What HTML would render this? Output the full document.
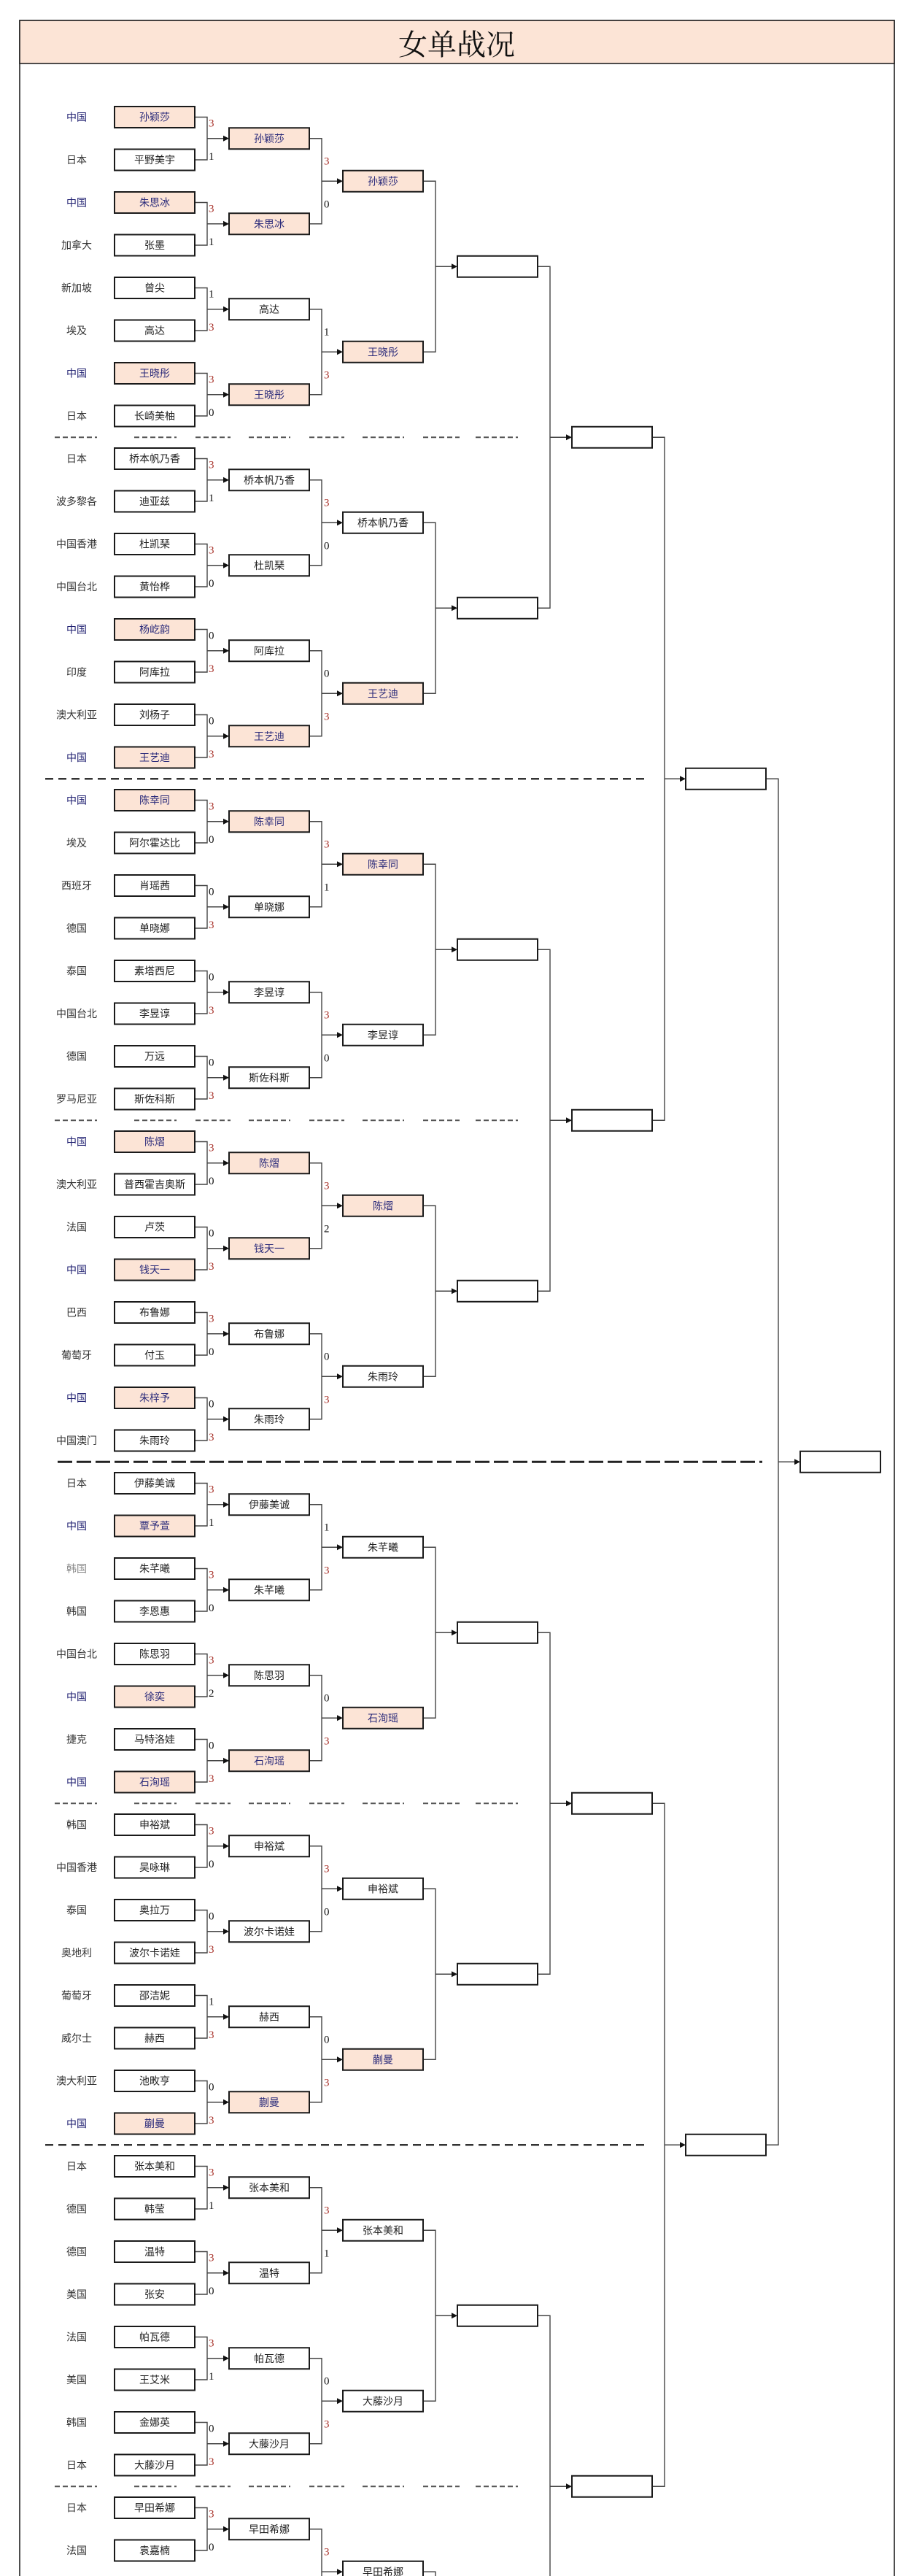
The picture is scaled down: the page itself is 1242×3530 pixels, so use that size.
<!DOCTYPE html>
<html><head><meta charset="utf-8"><style>
html,body{margin:0;padding:0;background:#fff;width:1242px;height:3530px;overflow:hidden;}
svg{display:block;}
text{font-family:"Liberation Sans","Noto Sans CJK SC",sans-serif;font-size:14px;}
.c{text-anchor:middle;fill:#333;}
.cn{text-anchor:middle;fill:#1f1f70;}
.n{text-anchor:middle;fill:#222;}
.h{text-anchor:middle;fill:#2a2a7a;}
.s{font-family:"Liberation Serif",serif;font-size:15px;fill:#111;}
.r{font-family:"Liberation Serif",serif;font-size:15px;fill:#a8322a;}
.b{fill:#fff;stroke:#1a1a1a;stroke-width:2;}
.p{fill:#fce4d6;stroke:#1a1a1a;stroke-width:2;}
.l{fill:none;stroke:#444;stroke-width:1.4;}
</style></head><body>
<svg width="1242" height="3530" viewBox="0 0 1242 3530" xmlns="http://www.w3.org/2000/svg" style="overflow:hidden">
<defs>
<g id="m1"><path class="l" d="M267 160.5H284V219H267M284 189.75H307"/><polygon points="306,185.75 314,189.75 306,193.75" fill="#111"/></g>
<g id="m2"><path class="l" d="M424 189.75H441V306.75H424M441 248.25H463"/><polygon points="462,244.25 470,248.25 462,252.25" fill="#111"/></g>
<g id="m3"><path class="l" d="M580 248.25H597V482.25H580M597 365.25H620"/><polygon points="619,361.25 627,365.25 619,369.25" fill="#111"/></g>
<g id="m4"><path class="l" d="M737 365.25H754V833.25H737M754 599.25H777"/><polygon points="776,595.25 784,599.25 776,603.25" fill="#111"/></g>
<g id="m5"><path class="l" d="M894 599.25H911V1535.25H894M911 1067.25H933"/><polygon points="932,1063.25 940,1067.25 932,1071.25" fill="#111"/></g>
<g id="m6"><path class="l" d="M1050 1067.25H1067V2939.25H1050M1067 2003.25H1090"/><polygon points="1089,1999.25 1097,2003.25 1089,2007.25" fill="#111"/></g>
<g id="sepA" fill="none" stroke="#555" stroke-width="2" stroke-dasharray="7 4">
<path d="M75 0H133M184 0H242M268 0H316M341 0H398M424 0H472M497 0H554M580 0H630M652 0H710"/>
</g>
</defs>

<path d="M27 3530V28H1226V3530" fill="#fff" stroke="#222" stroke-width="1.6"/>
<rect x="27" y="28" width="1199" height="59" fill="#fce4d6" stroke="#222" stroke-width="1.6"/>
<text x="626" y="75" text-anchor="middle" style="font-family:'Liberation Serif','Noto Serif CJK SC',serif;font-size:40px;fill:#111;">女单战况</text>

<use href="#sepA" y="599.25"/>
<use href="#sepA" y="1535.25"/>
<use href="#sepA" y="2471.25"/>
<use href="#sepA" y="3407.25"/>
<path d="M62 1067.25H883M62 2939.25H883" fill="none" stroke="#333" stroke-width="2.5" stroke-dasharray="11 7"/>
<path d="M79 2003.25H1045" fill="none" stroke="#222" stroke-width="3" stroke-dasharray="20 6"/>

<use href="#m1" y="0"/><use href="#m1" y="117"/><use href="#m1" y="234"/><use href="#m1" y="351"/><use href="#m1" y="468"/><use href="#m1" y="585"/><use href="#m1" y="702"/><use href="#m1" y="819"/><use href="#m1" y="936"/><use href="#m1" y="1053"/><use href="#m1" y="1170"/><use href="#m1" y="1287"/><use href="#m1" y="1404"/><use href="#m1" y="1521"/><use href="#m1" y="1638"/><use href="#m1" y="1755"/><use href="#m1" y="1872"/><use href="#m1" y="1989"/><use href="#m1" y="2106"/><use href="#m1" y="2223"/><use href="#m1" y="2340"/><use href="#m1" y="2457"/><use href="#m1" y="2574"/><use href="#m1" y="2691"/><use href="#m1" y="2808"/><use href="#m1" y="2925"/><use href="#m1" y="3042"/><use href="#m1" y="3159"/><use href="#m1" y="3276"/><use href="#m1" y="3393"/>
<use href="#m2" y="0"/><use href="#m2" y="234"/><use href="#m2" y="468"/><use href="#m2" y="702"/><use href="#m2" y="936"/><use href="#m2" y="1170"/><use href="#m2" y="1404"/><use href="#m2" y="1638"/><use href="#m2" y="1872"/><use href="#m2" y="2106"/><use href="#m2" y="2340"/><use href="#m2" y="2574"/><use href="#m2" y="2808"/><use href="#m2" y="3042"/><use href="#m2" y="3276"/>
<use href="#m3" y="0"/><use href="#m3" y="468"/><use href="#m3" y="936"/><use href="#m3" y="1404"/><use href="#m3" y="1872"/><use href="#m3" y="2340"/><use href="#m3" y="2808"/><use href="#m3" y="3276"/>
<use href="#m4" y="0"/><use href="#m4" y="936"/><use href="#m4" y="1872"/><use href="#m4" y="2808"/>
<use href="#m5" y="0"/><use href="#m5" y="1872"/>
<use href="#m6" y="0"/>

<g transform="translate(0,0)"><text class="r" x="286" y="173.5">3</text><text class="s" x="286" y="219">1</text></g>
<g transform="translate(0,117)"><text class="r" x="286" y="173.5">3</text><text class="s" x="286" y="219">1</text></g>
<g transform="translate(0,234)"><text class="s" x="286" y="173.5">1</text><text class="r" x="286" y="219">3</text></g>
<g transform="translate(0,351)"><text class="r" x="286" y="173.5">3</text><text class="s" x="286" y="219">0</text></g>
<g transform="translate(0,468)"><text class="r" x="286" y="173.5">3</text><text class="s" x="286" y="219">1</text></g>
<g transform="translate(0,585)"><text class="r" x="286" y="173.5">3</text><text class="s" x="286" y="219">0</text></g>
<g transform="translate(0,702)"><text class="s" x="286" y="173.5">0</text><text class="r" x="286" y="219">3</text></g>
<g transform="translate(0,819)"><text class="s" x="286" y="173.5">0</text><text class="r" x="286" y="219">3</text></g>
<g transform="translate(0,936)"><text class="r" x="286" y="173.5">3</text><text class="s" x="286" y="219">0</text></g>
<g transform="translate(0,1053)"><text class="s" x="286" y="173.5">0</text><text class="r" x="286" y="219">3</text></g>
<g transform="translate(0,1170)"><text class="s" x="286" y="173.5">0</text><text class="r" x="286" y="219">3</text></g>
<g transform="translate(0,1287)"><text class="s" x="286" y="173.5">0</text><text class="r" x="286" y="219">3</text></g>
<g transform="translate(0,1404)"><text class="r" x="286" y="173.5">3</text><text class="s" x="286" y="219">0</text></g>
<g transform="translate(0,1521)"><text class="s" x="286" y="173.5">0</text><text class="r" x="286" y="219">3</text></g>
<g transform="translate(0,1638)"><text class="r" x="286" y="173.5">3</text><text class="s" x="286" y="219">0</text></g>
<g transform="translate(0,1755)"><text class="s" x="286" y="173.5">0</text><text class="r" x="286" y="219">3</text></g>
<g transform="translate(0,1872)"><text class="r" x="286" y="173.5">3</text><text class="s" x="286" y="219">1</text></g>
<g transform="translate(0,1989)"><text class="r" x="286" y="173.5">3</text><text class="s" x="286" y="219">0</text></g>
<g transform="translate(0,2106)"><text class="r" x="286" y="173.5">3</text><text class="s" x="286" y="219">2</text></g>
<g transform="translate(0,2223)"><text class="s" x="286" y="173.5">0</text><text class="r" x="286" y="219">3</text></g>
<g transform="translate(0,2340)"><text class="r" x="286" y="173.5">3</text><text class="s" x="286" y="219">0</text></g>
<g transform="translate(0,2457)"><text class="s" x="286" y="173.5">0</text><text class="r" x="286" y="219">3</text></g>
<g transform="translate(0,2574)"><text class="s" x="286" y="173.5">1</text><text class="r" x="286" y="219">3</text></g>
<g transform="translate(0,2691)"><text class="s" x="286" y="173.5">0</text><text class="r" x="286" y="219">3</text></g>
<g transform="translate(0,2808)"><text class="r" x="286" y="173.5">3</text><text class="s" x="286" y="219">1</text></g>
<g transform="translate(0,2925)"><text class="r" x="286" y="173.5">3</text><text class="s" x="286" y="219">0</text></g>
<g transform="translate(0,3042)"><text class="r" x="286" y="173.5">3</text><text class="s" x="286" y="219">1</text></g>
<g transform="translate(0,3159)"><text class="s" x="286" y="173.5">0</text><text class="r" x="286" y="219">3</text></g>
<g transform="translate(0,3276)"><text class="r" x="286" y="173.5">3</text><text class="s" x="286" y="219">0</text></g>

<g transform="translate(0,0)"><text class="r" x="444" y="225.25">3</text><text class="s" x="444" y="284.25">0</text></g>
<g transform="translate(0,234)"><text class="s" x="444" y="225.25">1</text><text class="r" x="444" y="284.25">3</text></g>
<g transform="translate(0,468)"><text class="r" x="444" y="225.25">3</text><text class="s" x="444" y="284.25">0</text></g>
<g transform="translate(0,702)"><text class="s" x="444" y="225.25">0</text><text class="r" x="444" y="284.25">3</text></g>
<g transform="translate(0,936)"><text class="r" x="444" y="225.25">3</text><text class="s" x="444" y="284.25">1</text></g>
<g transform="translate(0,1170)"><text class="r" x="444" y="225.25">3</text><text class="s" x="444" y="284.25">0</text></g>
<g transform="translate(0,1404)"><text class="r" x="444" y="225.25">3</text><text class="s" x="444" y="284.25">2</text></g>
<g transform="translate(0,1638)"><text class="s" x="444" y="225.25">0</text><text class="r" x="444" y="284.25">3</text></g>
<g transform="translate(0,1872)"><text class="s" x="444" y="225.25">1</text><text class="r" x="444" y="284.25">3</text></g>
<g transform="translate(0,2106)"><text class="s" x="444" y="225.25">0</text><text class="r" x="444" y="284.25">3</text></g>
<g transform="translate(0,2340)"><text class="r" x="444" y="225.25">3</text><text class="s" x="444" y="284.25">0</text></g>
<g transform="translate(0,2574)"><text class="s" x="444" y="225.25">0</text><text class="r" x="444" y="284.25">3</text></g>
<g transform="translate(0,2808)"><text class="r" x="444" y="225.25">3</text><text class="s" x="444" y="284.25">1</text></g>
<g transform="translate(0,3042)"><text class="s" x="444" y="225.25">0</text><text class="r" x="444" y="284.25">3</text></g>
<g transform="translate(0,3276)"><text class="r" x="444" y="225.25">3</text></g>

<g transform="translate(0,0)"><text class="cn" x="105" y="165.5">中国</text><rect class="p" x="157" y="146" width="110" height="29"/><text class="h" x="212" y="165.5">孙颖莎</text></g>
<g transform="translate(0,58.5)"><text class="c" x="105" y="165.5">日本</text><rect class="b" x="157" y="146" width="110" height="29"/><text class="n" x="212" y="165.5">平野美宇</text></g>
<g transform="translate(0,117)"><text class="cn" x="105" y="165.5">中国</text><rect class="p" x="157" y="146" width="110" height="29"/><text class="h" x="212" y="165.5">朱思冰</text></g>
<g transform="translate(0,175.5)"><text class="c" x="105" y="165.5">加拿大</text><rect class="b" x="157" y="146" width="110" height="29"/><text class="n" x="212" y="165.5">张墨</text></g>
<g transform="translate(0,234)"><text class="c" x="105" y="165.5">新加坡</text><rect class="b" x="157" y="146" width="110" height="29"/><text class="n" x="212" y="165.5">曾尖</text></g>
<g transform="translate(0,292.5)"><text class="c" x="105" y="165.5">埃及</text><rect class="b" x="157" y="146" width="110" height="29"/><text class="n" x="212" y="165.5">高达</text></g>
<g transform="translate(0,351)"><text class="cn" x="105" y="165.5">中国</text><rect class="p" x="157" y="146" width="110" height="29"/><text class="h" x="212" y="165.5">王晓彤</text></g>
<g transform="translate(0,409.5)"><text class="c" x="105" y="165.5">日本</text><rect class="b" x="157" y="146" width="110" height="29"/><text class="n" x="212" y="165.5">长崎美柚</text></g>
<g transform="translate(0,468)"><text class="c" x="105" y="165.5">日本</text><rect class="b" x="157" y="146" width="110" height="29"/><text class="n" x="212" y="165.5">桥本帆乃香</text></g>
<g transform="translate(0,526.5)"><text class="c" x="105" y="165.5">波多黎各</text><rect class="b" x="157" y="146" width="110" height="29"/><text class="n" x="212" y="165.5">迪亚兹</text></g>
<g transform="translate(0,585)"><text class="c" x="105" y="165.5">中国香港</text><rect class="b" x="157" y="146" width="110" height="29"/><text class="n" x="212" y="165.5">杜凯琹</text></g>
<g transform="translate(0,643.5)"><text class="c" x="105" y="165.5">中国台北</text><rect class="b" x="157" y="146" width="110" height="29"/><text class="n" x="212" y="165.5">黄怡桦</text></g>
<g transform="translate(0,702)"><text class="cn" x="105" y="165.5">中国</text><rect class="p" x="157" y="146" width="110" height="29"/><text class="h" x="212" y="165.5">杨屹韵</text></g>
<g transform="translate(0,760.5)"><text class="c" x="105" y="165.5">印度</text><rect class="b" x="157" y="146" width="110" height="29"/><text class="n" x="212" y="165.5">阿库拉</text></g>
<g transform="translate(0,819)"><text class="c" x="105" y="165.5">澳大利亚</text><rect class="b" x="157" y="146" width="110" height="29"/><text class="n" x="212" y="165.5">刘杨子</text></g>
<g transform="translate(0,877.5)"><text class="cn" x="105" y="165.5">中国</text><rect class="p" x="157" y="146" width="110" height="29"/><text class="h" x="212" y="165.5">王艺迪</text></g>
<g transform="translate(0,936)"><text class="cn" x="105" y="165.5">中国</text><rect class="p" x="157" y="146" width="110" height="29"/><text class="h" x="212" y="165.5">陈幸同</text></g>
<g transform="translate(0,994.5)"><text class="c" x="105" y="165.5">埃及</text><rect class="b" x="157" y="146" width="110" height="29"/><text class="n" x="212" y="165.5">阿尔霍达比</text></g>
<g transform="translate(0,1053)"><text class="c" x="105" y="165.5">西班牙</text><rect class="b" x="157" y="146" width="110" height="29"/><text class="n" x="212" y="165.5">肖瑶茜</text></g>
<g transform="translate(0,1111.5)"><text class="c" x="105" y="165.5">德国</text><rect class="b" x="157" y="146" width="110" height="29"/><text class="n" x="212" y="165.5">单晓娜</text></g>
<g transform="translate(0,1170)"><text class="c" x="105" y="165.5">泰国</text><rect class="b" x="157" y="146" width="110" height="29"/><text class="n" x="212" y="165.5">素塔西尼</text></g>
<g transform="translate(0,1228.5)"><text class="c" x="105" y="165.5">中国台北</text><rect class="b" x="157" y="146" width="110" height="29"/><text class="n" x="212" y="165.5">李昱谆</text></g>
<g transform="translate(0,1287)"><text class="c" x="105" y="165.5">德国</text><rect class="b" x="157" y="146" width="110" height="29"/><text class="n" x="212" y="165.5">万远</text></g>
<g transform="translate(0,1345.5)"><text class="c" x="105" y="165.5">罗马尼亚</text><rect class="b" x="157" y="146" width="110" height="29"/><text class="n" x="212" y="165.5">斯佐科斯</text></g>
<g transform="translate(0,1404)"><text class="cn" x="105" y="165.5">中国</text><rect class="p" x="157" y="146" width="110" height="29"/><text class="h" x="212" y="165.5">陈熠</text></g>
<g transform="translate(0,1462.5)"><text class="c" x="105" y="165.5">澳大利亚</text><rect class="b" x="157" y="146" width="110" height="29"/><text class="n" x="212" y="165.5">普西霍吉奥斯</text></g>
<g transform="translate(0,1521)"><text class="c" x="105" y="165.5">法国</text><rect class="b" x="157" y="146" width="110" height="29"/><text class="n" x="212" y="165.5">卢茨</text></g>
<g transform="translate(0,1579.5)"><text class="cn" x="105" y="165.5">中国</text><rect class="p" x="157" y="146" width="110" height="29"/><text class="h" x="212" y="165.5">钱天一</text></g>
<g transform="translate(0,1638)"><text class="c" x="105" y="165.5">巴西</text><rect class="b" x="157" y="146" width="110" height="29"/><text class="n" x="212" y="165.5">布鲁娜</text></g>
<g transform="translate(0,1696.5)"><text class="c" x="105" y="165.5">葡萄牙</text><rect class="b" x="157" y="146" width="110" height="29"/><text class="n" x="212" y="165.5">付玉</text></g>
<g transform="translate(0,1755)"><text class="cn" x="105" y="165.5">中国</text><rect class="p" x="157" y="146" width="110" height="29"/><text class="h" x="212" y="165.5">朱梓予</text></g>
<g transform="translate(0,1813.5)"><text class="c" x="105" y="165.5">中国澳门</text><rect class="b" x="157" y="146" width="110" height="29"/><text class="n" x="212" y="165.5">朱雨玲</text></g>
<g transform="translate(0,1872)"><text class="c" x="105" y="165.5">日本</text><rect class="b" x="157" y="146" width="110" height="29"/><text class="n" x="212" y="165.5">伊藤美诚</text></g>
<g transform="translate(0,1930.5)"><text class="cn" x="105" y="165.5">中国</text><rect class="p" x="157" y="146" width="110" height="29"/><text class="h" x="212" y="165.5">覃予萱</text></g>
<g transform="translate(0,1989)"><text class="c" x="105" y="165.5" style="fill:#888">韩国</text><rect class="b" x="157" y="146" width="110" height="29"/><text class="n" x="212" y="165.5">朱芊曦</text></g>
<g transform="translate(0,2047.5)"><text class="c" x="105" y="165.5">韩国</text><rect class="b" x="157" y="146" width="110" height="29"/><text class="n" x="212" y="165.5">李恩惠</text></g>
<g transform="translate(0,2106)"><text class="c" x="105" y="165.5">中国台北</text><rect class="b" x="157" y="146" width="110" height="29"/><text class="n" x="212" y="165.5">陈思羽</text></g>
<g transform="translate(0,2164.5)"><text class="cn" x="105" y="165.5">中国</text><rect class="p" x="157" y="146" width="110" height="29"/><text class="h" x="212" y="165.5">徐奕</text></g>
<g transform="translate(0,2223)"><text class="c" x="105" y="165.5">捷克</text><rect class="b" x="157" y="146" width="110" height="29"/><text class="n" x="212" y="165.5">马特洛娃</text></g>
<g transform="translate(0,2281.5)"><text class="cn" x="105" y="165.5">中国</text><rect class="p" x="157" y="146" width="110" height="29"/><text class="h" x="212" y="165.5">石洵瑶</text></g>
<g transform="translate(0,2340)"><text class="c" x="105" y="165.5">韩国</text><rect class="b" x="157" y="146" width="110" height="29"/><text class="n" x="212" y="165.5">申裕斌</text></g>
<g transform="translate(0,2398.5)"><text class="c" x="105" y="165.5">中国香港</text><rect class="b" x="157" y="146" width="110" height="29"/><text class="n" x="212" y="165.5">吴咏琳</text></g>
<g transform="translate(0,2457)"><text class="c" x="105" y="165.5">泰国</text><rect class="b" x="157" y="146" width="110" height="29"/><text class="n" x="212" y="165.5">奥拉万</text></g>
<g transform="translate(0,2515.5)"><text class="c" x="105" y="165.5">奥地利</text><rect class="b" x="157" y="146" width="110" height="29"/><text class="n" x="212" y="165.5">波尔卡诺娃</text></g>
<g transform="translate(0,2574)"><text class="c" x="105" y="165.5">葡萄牙</text><rect class="b" x="157" y="146" width="110" height="29"/><text class="n" x="212" y="165.5">邵洁妮</text></g>
<g transform="translate(0,2632.5)"><text class="c" x="105" y="165.5">威尔士</text><rect class="b" x="157" y="146" width="110" height="29"/><text class="n" x="212" y="165.5">赫西</text></g>
<g transform="translate(0,2691)"><text class="c" x="105" y="165.5">澳大利亚</text><rect class="b" x="157" y="146" width="110" height="29"/><text class="n" x="212" y="165.5">池畋亨</text></g>
<g transform="translate(0,2749.5)"><text class="cn" x="105" y="165.5">中国</text><rect class="p" x="157" y="146" width="110" height="29"/><text class="h" x="212" y="165.5">蒯曼</text></g>
<g transform="translate(0,2808)"><text class="c" x="105" y="165.5">日本</text><rect class="b" x="157" y="146" width="110" height="29"/><text class="n" x="212" y="165.5">张本美和</text></g>
<g transform="translate(0,2866.5)"><text class="c" x="105" y="165.5">德国</text><rect class="b" x="157" y="146" width="110" height="29"/><text class="n" x="212" y="165.5">韩莹</text></g>
<g transform="translate(0,2925)"><text class="c" x="105" y="165.5">德国</text><rect class="b" x="157" y="146" width="110" height="29"/><text class="n" x="212" y="165.5">温特</text></g>
<g transform="translate(0,2983.5)"><text class="c" x="105" y="165.5">美国</text><rect class="b" x="157" y="146" width="110" height="29"/><text class="n" x="212" y="165.5">张安</text></g>
<g transform="translate(0,3042)"><text class="c" x="105" y="165.5">法国</text><rect class="b" x="157" y="146" width="110" height="29"/><text class="n" x="212" y="165.5">帕瓦德</text></g>
<g transform="translate(0,3100.5)"><text class="c" x="105" y="165.5">美国</text><rect class="b" x="157" y="146" width="110" height="29"/><text class="n" x="212" y="165.5">王艾米</text></g>
<g transform="translate(0,3159)"><text class="c" x="105" y="165.5">韩国</text><rect class="b" x="157" y="146" width="110" height="29"/><text class="n" x="212" y="165.5">金娜英</text></g>
<g transform="translate(0,3217.5)"><text class="c" x="105" y="165.5">日本</text><rect class="b" x="157" y="146" width="110" height="29"/><text class="n" x="212" y="165.5">大藤沙月</text></g>
<g transform="translate(0,3276)"><text class="c" x="105" y="165.5">日本</text><rect class="b" x="157" y="146" width="110" height="29"/><text class="n" x="212" y="165.5">早田希娜</text></g>
<g transform="translate(0,3334.5)"><text class="c" x="105" y="165.5">法国</text><rect class="b" x="157" y="146" width="110" height="29"/><text class="n" x="212" y="165.5">袁嘉楠</text></g>

<g transform="translate(0,0)"><rect class="p" x="314" y="175.25" width="110" height="29"/><text class="h" x="369" y="194.75">孙颖莎</text></g>
<g transform="translate(0,117)"><rect class="p" x="314" y="175.25" width="110" height="29"/><text class="h" x="369" y="194.75">朱思冰</text></g>
<g transform="translate(0,234)"><rect class="b" x="314" y="175.25" width="110" height="29"/><text class="n" x="369" y="194.75">高达</text></g>
<g transform="translate(0,351)"><rect class="p" x="314" y="175.25" width="110" height="29"/><text class="h" x="369" y="194.75">王晓彤</text></g>
<g transform="translate(0,468)"><rect class="b" x="314" y="175.25" width="110" height="29"/><text class="n" x="369" y="194.75">桥本帆乃香</text></g>
<g transform="translate(0,585)"><rect class="b" x="314" y="175.25" width="110" height="29"/><text class="n" x="369" y="194.75">杜凯琹</text></g>
<g transform="translate(0,702)"><rect class="b" x="314" y="175.25" width="110" height="29"/><text class="n" x="369" y="194.75">阿库拉</text></g>
<g transform="translate(0,819)"><rect class="p" x="314" y="175.25" width="110" height="29"/><text class="h" x="369" y="194.75">王艺迪</text></g>
<g transform="translate(0,936)"><rect class="p" x="314" y="175.25" width="110" height="29"/><text class="h" x="369" y="194.75">陈幸同</text></g>
<g transform="translate(0,1053)"><rect class="b" x="314" y="175.25" width="110" height="29"/><text class="n" x="369" y="194.75">单晓娜</text></g>
<g transform="translate(0,1170)"><rect class="b" x="314" y="175.25" width="110" height="29"/><text class="n" x="369" y="194.75">李昱谆</text></g>
<g transform="translate(0,1287)"><rect class="b" x="314" y="175.25" width="110" height="29"/><text class="n" x="369" y="194.75">斯佐科斯</text></g>
<g transform="translate(0,1404)"><rect class="p" x="314" y="175.25" width="110" height="29"/><text class="h" x="369" y="194.75">陈熠</text></g>
<g transform="translate(0,1521)"><rect class="p" x="314" y="175.25" width="110" height="29"/><text class="h" x="369" y="194.75">钱天一</text></g>
<g transform="translate(0,1638)"><rect class="b" x="314" y="175.25" width="110" height="29"/><text class="n" x="369" y="194.75">布鲁娜</text></g>
<g transform="translate(0,1755)"><rect class="b" x="314" y="175.25" width="110" height="29"/><text class="n" x="369" y="194.75">朱雨玲</text></g>
<g transform="translate(0,1872)"><rect class="b" x="314" y="175.25" width="110" height="29"/><text class="n" x="369" y="194.75">伊藤美诚</text></g>
<g transform="translate(0,1989)"><rect class="b" x="314" y="175.25" width="110" height="29"/><text class="n" x="369" y="194.75">朱芊曦</text></g>
<g transform="translate(0,2106)"><rect class="b" x="314" y="175.25" width="110" height="29"/><text class="n" x="369" y="194.75">陈思羽</text></g>
<g transform="translate(0,2223)"><rect class="p" x="314" y="175.25" width="110" height="29"/><text class="h" x="369" y="194.75">石洵瑶</text></g>
<g transform="translate(0,2340)"><rect class="b" x="314" y="175.25" width="110" height="29"/><text class="n" x="369" y="194.75">申裕斌</text></g>
<g transform="translate(0,2457)"><rect class="b" x="314" y="175.25" width="110" height="29"/><text class="n" x="369" y="194.75">波尔卡诺娃</text></g>
<g transform="translate(0,2574)"><rect class="b" x="314" y="175.25" width="110" height="29"/><text class="n" x="369" y="194.75">赫西</text></g>
<g transform="translate(0,2691)"><rect class="p" x="314" y="175.25" width="110" height="29"/><text class="h" x="369" y="194.75">蒯曼</text></g>
<g transform="translate(0,2808)"><rect class="b" x="314" y="175.25" width="110" height="29"/><text class="n" x="369" y="194.75">张本美和</text></g>
<g transform="translate(0,2925)"><rect class="b" x="314" y="175.25" width="110" height="29"/><text class="n" x="369" y="194.75">温特</text></g>
<g transform="translate(0,3042)"><rect class="b" x="314" y="175.25" width="110" height="29"/><text class="n" x="369" y="194.75">帕瓦德</text></g>
<g transform="translate(0,3159)"><rect class="b" x="314" y="175.25" width="110" height="29"/><text class="n" x="369" y="194.75">大藤沙月</text></g>
<g transform="translate(0,3276)"><rect class="b" x="314" y="175.25" width="110" height="29"/><text class="n" x="369" y="194.75">早田希娜</text></g>

<g transform="translate(0,0)"><rect class="p" x="470" y="233.75" width="110" height="29"/><text class="h" x="525" y="253.25">孙颖莎</text></g>
<g transform="translate(0,234)"><rect class="p" x="470" y="233.75" width="110" height="29"/><text class="h" x="525" y="253.25">王晓彤</text></g>
<g transform="translate(0,468)"><rect class="b" x="470" y="233.75" width="110" height="29"/><text class="n" x="525" y="253.25">桥本帆乃香</text></g>
<g transform="translate(0,702)"><rect class="p" x="470" y="233.75" width="110" height="29"/><text class="h" x="525" y="253.25">王艺迪</text></g>
<g transform="translate(0,936)"><rect class="p" x="470" y="233.75" width="110" height="29"/><text class="h" x="525" y="253.25">陈幸同</text></g>
<g transform="translate(0,1170)"><rect class="b" x="470" y="233.75" width="110" height="29"/><text class="n" x="525" y="253.25">李昱谆</text></g>
<g transform="translate(0,1404)"><rect class="p" x="470" y="233.75" width="110" height="29"/><text class="h" x="525" y="253.25">陈熠</text></g>
<g transform="translate(0,1638)"><rect class="b" x="470" y="233.75" width="110" height="29"/><text class="n" x="525" y="253.25">朱雨玲</text></g>
<g transform="translate(0,1872)"><rect class="b" x="470" y="233.75" width="110" height="29"/><text class="n" x="525" y="253.25">朱芊曦</text></g>
<g transform="translate(0,2106)"><rect class="p" x="470" y="233.75" width="110" height="29"/><text class="h" x="525" y="253.25">石洵瑶</text></g>
<g transform="translate(0,2340)"><rect class="b" x="470" y="233.75" width="110" height="29"/><text class="n" x="525" y="253.25">申裕斌</text></g>
<g transform="translate(0,2574)"><rect class="p" x="470" y="233.75" width="110" height="29"/><text class="h" x="525" y="253.25">蒯曼</text></g>
<g transform="translate(0,2808)"><rect class="b" x="470" y="233.75" width="110" height="29"/><text class="n" x="525" y="253.25">张本美和</text></g>
<g transform="translate(0,3042)"><rect class="b" x="470" y="233.75" width="110" height="29"/><text class="n" x="525" y="253.25">大藤沙月</text></g>
<g transform="translate(0,3276)"><rect class="b" x="470" y="233.75" width="110" height="29"/><text class="n" x="525" y="253.25">早田希娜</text></g>

<rect class="b" x="627" y="350.75" width="110" height="29"/>
<rect class="b" x="627" y="818.75" width="110" height="29"/>
<rect class="b" x="627" y="1286.75" width="110" height="29"/>
<rect class="b" x="627" y="1754.75" width="110" height="29"/>
<rect class="b" x="627" y="2222.75" width="110" height="29"/>
<rect class="b" x="627" y="2690.75" width="110" height="29"/>
<rect class="b" x="627" y="3158.75" width="110" height="29"/>
<rect class="b" x="784" y="584.75" width="110" height="29"/>
<rect class="b" x="784" y="1520.75" width="110" height="29"/>
<rect class="b" x="784" y="2456.75" width="110" height="29"/>
<rect class="b" x="784" y="3392.75" width="110" height="29"/>
<rect class="b" x="940" y="1052.75" width="110" height="29"/>
<rect class="b" x="940" y="2924.75" width="110" height="29"/>
<rect class="b" x="1097" y="1988.75" width="110" height="29"/>
</svg>
</body></html>
